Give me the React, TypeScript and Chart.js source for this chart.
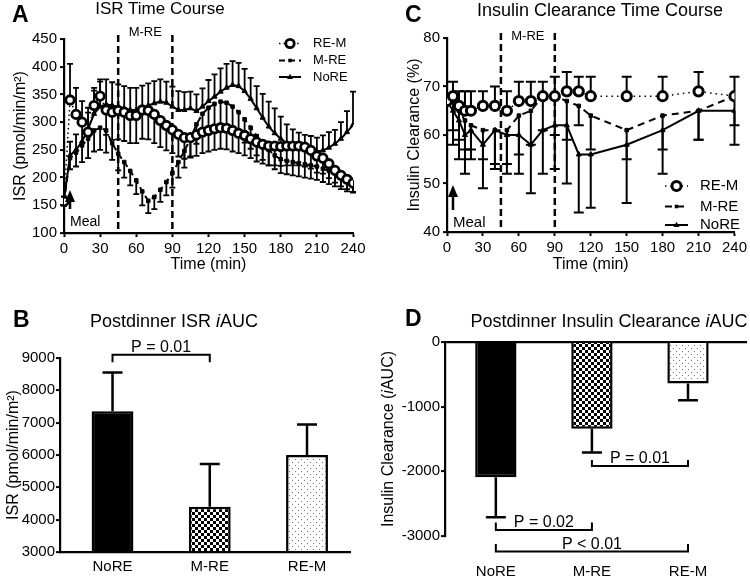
import React, { useEffect, useRef } from 'react';
import { Chart, registerables } from 'chart.js';

Chart.register(...registerables);

const FONT = '"Liberation Sans", Arial, Helvetica, sans-serif';

/* ---------------- Panel A: ISR time course ---------------- */
const isrTimes = [0, 5, 10, 15, 20, 25, 30, 35, 40, 45, 50, 55, 60, 65, 70, 75, 80, 85, 90, 95, 100, 105, 110, 115, 120, 125, 130, 135, 140, 145, 150, 155, 160, 165, 170, 175, 180, 185, 190, 195, 200, 205, 210, 215, 220, 225, 230, 235, 240];
const isrTimeTicks = [0, 30, 60, 90, 120, 150, 180, 210, 240];
const isrTicks = [100, 150, 200, 250, 300, 350, 400, 450];
const isrREM = [157, 340, 314, 300, 282, 330, 347, 322, 318, 321, 318, 312, 312, 322, 321, 314, 303, 294, 286, 278, 272, 272, 277, 282, 285, 288, 290, 289, 285, 280, 276, 270, 264, 260, 257, 257, 256, 257, 257, 257, 255, 249, 239, 235, 225, 213, 204, 197, 190];
const isrREMErr = [8, 65, 48, 38, 35, 32, 30, -45, -50, -52, -52, -50, -50, -52, -52, -52, -48, -45, -42, -40, -38, -36, -38, -38, -38, -38, -38, -38, -38, -36, -36, -35, -35, -35, -35, -35, -35, -35, -35, -35, -35, -33, -30, -28, -26, -22, -20, -18, -17];
const isrMRE = [157, 235, 245, 258, 270, 285, 290, 285, 262, 243, 228, 212, 195, 175, 158, 165, 178, 192, 208, 228, 248, 270, 296, 315, 326, 333, 337, 335, 328, 318, 305, 290, 275, 262, 250, 240, 233, 230, 228, 226, 224, 222, 220, 216, 212, 208, 203, 199, 196];
const isrMREErr = [-8, -20, -25, -30, -35, -38, -40, -40, -30, -30, -28, -26, -25, -25, -22, -22, -22, -24, -26, -28, -30, -32, -35, -40, -45, -48, -50, -50, -48, -45, -42, -38, -35, -30, -28, -25, -25, -24, -24, -24, -24, -24, -24, -24, -24, -24, -24, -24, -22];
const isrNoRE = [160, 240, 250, 265, 288, 315, 328, 332, 330, 328, 325, 322, 322, 326, 330, 334, 337, 335, 328, 322, 322, 325, 320, 328, 338, 346, 355, 362, 367, 365, 356, 342, 325, 308, 292, 280, 270, 262, 257, 253, 250, 248, 247, 249, 254, 261, 270, 282, 295];
const isrNoREErr = [6, 25, 28, 32, 38, 42, 45, 45, 42, 40, 40, 40, 40, 40, 40, 40, 40, 38, 36, 34, 32, 30, 30, 33, 38, 40, 42, 43, 43, 42, 40, 38, 40, 43, 45, 45, 40, 34, 30, 28, 27, 27, 25, 27, 28, 25, 30, 38, 60];

/* ---------------- Panel C: insulin clearance time course ---------------- */
const clrTimes = [0, 5, 10, 15, 20, 30, 40, 50, 60, 70, 80, 90, 100, 110, 120, 150, 180, 210, 240];
const clrTimeTicks = [0, 30, 60, 90, 120, 150, 180, 210, 240];
const clrTicks = [40, 50, 60, 70, 80];
const clrREM = [67, 68, 66, 65, 65, 66, 66, 65, 67, 67, 68, 68, 69, 69, 68, 68, 68, 69, 68];
const clrREMErr = [0, 3, 3, 4, 4, 3, 4, 4, 4, 4, 3, 4, 4, 3, 4, 4, 4, 4, 4];
const clrMRE = [67, 67, 65, 63, 62, 61, 61, 61, 64, 65, 68, 68, 67, 66, 64, 61, 64, 65, 68];
const clrMREErr = [0, -6, -6, -6, -5, -6, -7, -7, -8, -7, -7, -8, -8, -4, -7, -6, -7, -6, -6];
const clrNoRE = [67, 65, 63, 60, 61, 58, 61, 60, 60, 58, 61, 62, 62, 56, 56, 58, 61, 65, 65];
const clrNoREErr = [0, -7, -8, -8, -6, -9, -8, -8, -8, -10, -9, -9, -12, -12, -11, -12, -9, -6, -7];

/* ---------------- Shared annotations ---------------- */
const exerciseWindow = [45, 90];
const mealTime = 5;

/* ---------------- Panel B: ISR iAUC ---------------- */
const groups = ['NoRE', 'M-RE', 'RE-M'];
const isrAuc = [7350, 4400, 6000];
const isrAucErr = [1200, 1320, 940];
const isrAucTicks = [3000, 4000, 5000, 6000, 7000, 8000, 9000];
const isrAucBrackets = [{ from: 0, to: 1, level: 9100, tip: 8870, label: 'P = 0.01' }];

/* ---------------- Panel D: insulin clearance iAUC ---------------- */
const clrAuc = [-2090, -1340, -640];
const clrAucErr = [-620, -370, -260];
const clrAucTicks = [-3000, -2000, -1000, 0];
const clrAucBrackets = [
  { from: 1, to: 2, level: -1918, tip: -1825, label: 'P = 0.01' },
  { from: 0, to: 1, level: -2906, tip: -2793, label: 'P = 0.02' },
  { from: 0, to: 2, level: -3241, tip: -3122, label: 'P < 0.01' },
];

/* ---------------- helpers ---------------- */
const f = (size: number, style = '') => `${style}${size}px ${FONT}`;

function errorBars(lineWidth: number, capHalf: number) {
  return {
    id: 'errorBars',
    beforeDatasetsDraw(chart: any) {
      const ctx = chart.ctx;
      const ys = chart.scales.y;
      chart.data.datasets.forEach((ds: any, di: number) => {
        if (!ds.errors) return;
        const meta = chart.getDatasetMeta(di);
        ctx.save();
        ctx.strokeStyle = '#000';
        ctx.lineWidth = lineWidth;
        ctx.setLineDash([]);
        meta.data.forEach((el: any, i: number) => {
          const e = ds.errors[i];
          if (!e) return;
          const raw = ds.data[i];
          const v = typeof raw === 'number' ? raw : raw.y;
          const x = el.x;
          const y0 = ys.getPixelForValue(v);
          const y1 = ys.getPixelForValue(v + e);
          ctx.beginPath();
          ctx.moveTo(x, y0);
          ctx.lineTo(x, y1);
          ctx.moveTo(x - capHalf, y1);
          ctx.lineTo(x + capHalf, y1);
          ctx.stroke();
        });
        ctx.restore();
      });
    },
  };
}

function drawMarker(ctx: CanvasRenderingContext2D, style: string, x: number, y: number, r: number, fill: string, bw: number) {
  ctx.save();
  ctx.setLineDash([]);
  ctx.fillStyle = fill;
  ctx.strokeStyle = '#000';
  ctx.lineWidth = bw;
  ctx.beginPath();
  if (style === 'circle') {
    ctx.arc(x, y, r, 0, Math.PI * 2);
  } else if (style === 'rect') {
    const s = r * Math.SQRT2;
    ctx.rect(x - s / 2, y - s / 2, s, s);
  } else {
    ctx.moveTo(x, y - r * 1.1);
    ctx.lineTo(x - r, y + r * 0.7);
    ctx.lineTo(x + r, y + r * 0.7);
    ctx.closePath();
  }
  ctx.fill();
  if (style === 'circle') ctx.stroke();
  ctx.restore();
}

function timeDecor(cfg: any) {
  return {
    id: 'timeDecor',
    beforeDatasetsDraw(chart: any) {
      const { ctx, chartArea } = chart;
      const xs = chart.scales.x;
      ctx.save();
      ctx.strokeStyle = '#000';
      ctx.lineWidth = 2.5;
      ctx.setLineDash([7, 4]);
      exerciseWindow.forEach((t) => {
        const px = xs.getPixelForValue(t);
        ctx.beginPath();
        ctx.moveTo(px, chartArea.top - cfg.overhang);
        ctx.lineTo(px, chartArea.bottom);
        ctx.stroke();
      });
      ctx.restore();
    },
    afterDatasetsDraw(chart: any) {
      const { ctx, chartArea } = chart;
      const xs = chart.scales.x;
      ctx.save();
      ctx.fillStyle = '#000';
      ctx.strokeStyle = '#000';
      const p1 = xs.getPixelForValue(exerciseWindow[0]);
      const p2 = xs.getPixelForValue(exerciseWindow[1]);
      ctx.font = f(cfg.windowFont);
      ctx.textAlign = 'center';
      ctx.textBaseline = 'middle';
      ctx.fillText('M-RE', (p1 + p2) / 2, chartArea.top + cfg.windowLabelDy);
      const ax = xs.getPixelForValue(mealTime);
      const b = chartArea.bottom;
      ctx.beginPath();
      ctx.moveTo(ax, b - cfg.arrowTip);
      ctx.lineTo(ax - cfg.arrowHalf, b - cfg.arrowBase);
      ctx.lineTo(ax + cfg.arrowHalf, b - cfg.arrowBase);
      ctx.closePath();
      ctx.fill();
      ctx.lineWidth = 2.5;
      ctx.beginPath();
      ctx.moveTo(ax, b - cfg.arrowBase);
      ctx.lineTo(ax, b - cfg.stemEnd);
      ctx.stroke();
      ctx.font = f(cfg.mealFont);
      ctx.textAlign = 'left';
      ctx.fillText('Meal', ax + cfg.mealDx, b - cfg.mealDy);
      chart.data.datasets.forEach((ds: any, i: number) => {
        const y = cfg.legendY[i];
        ctx.save();
        ctx.lineWidth = ds.borderWidth;
        ctx.setLineDash(ds.borderDash || []);
        ctx.beginPath();
        ctx.moveTo(cfg.legendX0, y);
        ctx.lineTo(cfg.legendX1, y);
        ctx.stroke();
        ctx.restore();
        drawMarker(ctx, ds.pointStyle, (cfg.legendX0 + cfg.legendX1) / 2, y, ds.pointRadius, ds.pointBackgroundColor, ds.pointBorderWidth || 1);
        ctx.font = f(cfg.legendFont);
        ctx.textAlign = 'left';
        ctx.textBaseline = 'middle';
        ctx.fillStyle = '#000';
        ctx.fillText(ds.label, cfg.legendTextX, y);
      });
      ctx.restore();
    },
  };
}

function bracketPlugin(items: any[], font: number) {
  return {
    id: 'brackets',
    afterDraw(chart: any) {
      const { ctx } = chart;
      const xs = chart.scales.x;
      const ys = chart.scales.y;
      ctx.save();
      ctx.strokeStyle = '#000';
      ctx.fillStyle = '#000';
      ctx.lineWidth = 2;
      ctx.font = f(font);
      ctx.textAlign = 'center';
      ctx.textBaseline = 'alphabetic';
      items.forEach((b) => {
        const x1 = xs.getPixelForValue(b.from);
        const x2 = xs.getPixelForValue(b.to);
        const yl = ys.getPixelForValue(b.level);
        const yt = ys.getPixelForValue(b.tip);
        ctx.beginPath();
        ctx.moveTo(x1, yt);
        ctx.lineTo(x1, yl);
        ctx.lineTo(x2, yl);
        ctx.lineTo(x2, yt);
        ctx.stroke();
        ctx.fillText(b.label, (x1 + x2) / 2, yl - 3);
      });
      ctx.restore();
    },
  };
}

function richYTitle(parts: { text: string; italic?: boolean }[], x: number, size: number) {
  return {
    id: 'richYTitle',
    afterDraw(chart: any) {
      const { ctx, chartArea } = chart;
      const cy = (chartArea.top + chartArea.bottom) / 2;
      ctx.save();
      ctx.translate(x, cy);
      ctx.rotate(-Math.PI / 2);
      ctx.fillStyle = '#000';
      ctx.textBaseline = 'middle';
      ctx.textAlign = 'left';
      let total = 0;
      parts.forEach((p) => {
        ctx.font = f(size, p.italic ? 'italic ' : '');
        total += ctx.measureText(p.text).width;
      });
      let cx = -total / 2;
      parts.forEach((p) => {
        ctx.font = f(size, p.italic ? 'italic ' : '');
        ctx.fillText(p.text, cx, 0);
        cx += ctx.measureText(p.text).width;
      });
      ctx.restore();
    },
  };
}

function checkerPattern(ctx: CanvasRenderingContext2D) {
  const c = document.createElement('canvas');
  c.width = 6;
  c.height = 6;
  const g = c.getContext('2d')!;
  g.fillStyle = '#fff';
  g.fillRect(0, 0, 6, 6);
  g.fillStyle = '#000';
  g.fillRect(0, 0, 3, 3);
  g.fillRect(3, 3, 3, 3);
  return ctx.createPattern(c, 'repeat');
}

function dotPattern(ctx: CanvasRenderingContext2D) {
  const c = document.createElement('canvas');
  c.width = 6;
  c.height = 6;
  const g = c.getContext('2d')!;
  g.fillStyle = '#fff';
  g.fillRect(0, 0, 6, 6);
  g.fillStyle = '#777';
  g.fillRect(1, 1, 1, 1);
  g.fillRect(4, 4, 1, 1);
  return ctx.createPattern(c, 'repeat');
}

const tickFont = (size: number) => ({ family: FONT, size });

function axisY(opts: any) {
  return {
    type: 'linear',
    min: opts.ticks[0],
    max: opts.ticks[opts.ticks.length - 1],
    afterBuildTicks: (s: any) => {
      s.ticks = opts.ticks.map((v: number) => ({ value: v }));
    },
    afterFit: (s: any) => {
      s.width = opts.width;
    },
    border: { display: true, color: '#000', width: 2.2 },
    grid: {
      display: true,
      drawOnChartArea: !!opts.zeroLine,
      color: (c: any) => (opts.zeroLine && c.tick && c.tick.value === 0 ? '#000' : 'rgba(0,0,0,0)'),
      lineWidth: 2.2,
      drawTicks: true,
      tickLength: 4,
      tickColor: '#000',
      tickWidth: 2,
    },
    ticks: {
      color: '#000',
      font: tickFont(opts.tickSize),
      padding: opts.tickPad,
      callback: (v: any) => String(v),
    },
    title: opts.title
      ? { display: true, text: opts.title, color: '#000', font: { family: FONT, size: 16 }, padding: { top: opts.titlePad, bottom: 0 } }
      : { display: false },
  };
}

function timeCourseConfig(p: any) {
  const datasets = p.series.map((s: any) => ({
    label: s.label,
    data: p.times.map((t: number, i: number) => ({ x: t, y: s.values[i] })),
    errors: s.errors,
    borderColor: '#000',
    backgroundColor: '#000',
    pointBorderColor: '#000',
    tension: 0,
    ...s.style,
  }));
  return {
    type: 'line',
    data: { datasets },
    options: {
      responsive: false,
      maintainAspectRatio: false,
      animation: false,
      events: [],
      layout: { padding: p.padding },
      plugins: { legend: { display: false }, tooltip: { enabled: false }, title: { display: false } },
      scales: {
        x: {
          type: 'linear',
          min: 0,
          max: 240,
          afterBuildTicks: (s: any) => {
            s.ticks = p.xTicks.map((v: number) => ({ value: v }));
          },
          afterFit: (s: any) => {
            s.height = p.xHeight;
          },
          border: { display: true, color: '#000', width: 2.2 },
          grid: { display: true, drawOnChartArea: false, drawTicks: true, tickLength: 4, tickColor: '#000', tickWidth: 2 },
          ticks: { color: '#000', font: tickFont(15), padding: 3, maxRotation: 0, autoSkip: false },
          title: { display: true, text: 'Time (min)', color: '#000', font: { family: FONT, size: 16 }, padding: { top: 0, bottom: 16 } },
        },
        y: axisY({ ticks: p.yTicks, width: p.yWidth, tickSize: 15, tickPad: 3, title: p.yTitle, titlePad: p.yTitlePad }),
      },
    },
    plugins: [errorBars(p.errWidth, p.capHalf), timeDecor(p.decor)],
  };
}

function makeA() {
  return timeCourseConfig({
    times: isrTimes,
    xTicks: isrTimeTicks,
    yTicks: isrTicks,
    padding: { top: 39, right: 22, bottom: 0, left: 0 },
    xHeight: 57,
    yWidth: 64,
    yTitle: 'ISR (pmol/min/m²)',
    yTitlePad: 11,
    errWidth: 1.8,
    capHalf: 3,
    series: [
      { label: 'RE-M', values: isrREM, errors: isrREMErr, style: { borderWidth: 1.5, borderDash: [1.5, 3], pointStyle: 'circle', pointRadius: 4.2, pointBorderWidth: 2.8, pointBackgroundColor: '#fff' } },
      { label: 'M-RE', values: isrMRE, errors: isrMREErr, style: { borderWidth: 2, borderDash: [6, 4], pointStyle: 'rect', pointRadius: 2.5, pointBorderWidth: 1, pointBackgroundColor: '#000' } },
      { label: 'NoRE', values: isrNoRE, errors: isrNoREErr, style: { borderWidth: 2, borderDash: [], pointStyle: 'triangle', pointRadius: 3, pointBorderWidth: 1, pointBackgroundColor: '#000' } },
    ],
    decor: {
      overhang: 4,
      windowFont: 13,
      windowLabelDy: -7,
      arrowTip: 43,
      arrowBase: 31,
      arrowHalf: 5,
      stemEnd: 24,
      mealFont: 14,
      mealDx: 0,
      mealDy: 11,
      legendX0: 279,
      legendX1: 301,
      legendTextX: 313,
      legendY: [43.5, 60.5, 77],
      legendFont: 13,
    },
  });
}

function makeC() {
  return timeCourseConfig({
    times: clrTimes,
    xTicks: clrTimeTicks,
    yTicks: clrTicks,
    padding: { top: 38, right: 13, bottom: 0, left: 0 },
    xHeight: 58,
    yWidth: 72,
    yTitle: 'Insulin Clearance (%)',
    yTitlePad: 30,
    errWidth: 2,
    capHalf: 5,
    series: [
      { label: 'RE-M', values: clrREM, errors: clrREMErr, style: { borderWidth: 1.5, borderDash: [1.5, 4], pointStyle: 'circle', pointRadius: 4.6, pointBorderWidth: 3, pointBackgroundColor: '#fff' } },
      { label: 'M-RE', values: clrMRE, errors: clrMREErr, style: { borderWidth: 2, borderDash: [7, 5], pointStyle: 'rect', pointRadius: 2.5, pointBorderWidth: 1, pointBackgroundColor: '#000' } },
      { label: 'NoRE', values: clrNoRE, errors: clrNoREErr, style: { borderWidth: 2, borderDash: [], pointStyle: 'triangle', pointRadius: 3, pointBorderWidth: 1, pointBackgroundColor: '#000' } },
    ],
    decor: {
      overhang: 5,
      windowFont: 13,
      windowLabelDy: -2,
      arrowTip: 47,
      arrowBase: 35,
      arrowHalf: 5,
      stemEnd: 22,
      mealFont: 15,
      mealDx: 0,
      mealDy: 9,
      legendX0: 290,
      legendX1: 313,
      legendTextX: 325,
      legendY: [186, 206.5, 225],
      legendFont: 15,
    },
  });
}

function barConfig(p: any) {
  return (canvasCtx: CanvasRenderingContext2D) => ({
    type: 'bar',
    data: {
      datasets: [
        {
          data: p.values.map((v: number, i: number) => ({ x: i, y: v })),
          errors: p.errors,
          backgroundColor: ['#000', checkerPattern(canvasCtx), dotPattern(canvasCtx)],
          borderColor: '#000',
          borderWidth: 2.5,
          borderSkipped: 'start',
          base: p.base,
          categoryPercentage: 1,
          barPercentage: 0.43,
        },
      ],
    },
    options: {
      responsive: false,
      maintainAspectRatio: false,
      animation: false,
      events: [],
      layout: { padding: p.padding },
      plugins: { legend: { display: false }, tooltip: { enabled: false }, title: { display: false } },
      scales: {
        x: {
          type: 'linear',
          min: p.xMin,
          max: p.xMax,
          offset: false,
          afterBuildTicks: (s: any) => {
            s.ticks = groups.map((_g, i) => ({ value: i }));
          },
          afterFit: (s: any) => {
            s.height = p.xHeight;
          },
          border: { display: p.xBorder, color: '#000', width: 2.2 },
          grid: { display: false, drawTicks: false },
          ticks: { color: '#000', font: tickFont(15), padding: p.xTickPad, maxRotation: 0, autoSkip: false, callback: (v: any) => groups[v] ?? '' },
        },
        y: axisY({ ticks: p.yTicks, width: p.yWidth, tickSize: 15, tickPad: 1, title: p.yTitle, titlePad: p.yTitlePad, zeroLine: p.zeroLine }),
      },
    },
    plugins: [errorBars(2.5, 10), bracketPlugin(p.brackets, 16), ...(p.extra || [])],
  });
}

const makeB = barConfig({
  values: isrAuc,
  errors: isrAucErr,
  base: isrAucTicks[0],
  padding: { top: 68, right: 25, bottom: 0, left: 0 },
  xMin: -0.54,
  xMax: 2.442,
  xHeight: 27,
  xBorder: true,
  xTickPad: 6,
  yTicks: isrAucTicks,
  yWidth: 60,
  yTitle: 'ISR (pmol/min/m²)',
  yTitlePad: 4,
  brackets: isrAucBrackets,
});

const makeD = barConfig({
  values: clrAuc,
  errors: clrAucErr,
  base: 0,
  padding: { top: 52, right: 3, bottom: 0, left: 0 },
  xMin: -0.529,
  xMax: 2.614,
  xHeight: 43,
  xBorder: false,
  xTickPad: 27,
  yTicks: clrAucTicks,
  yWidth: 70,
  yTitle: null,
  yTitlePad: 0,
  zeroLine: true,
  brackets: clrAucBrackets,
  extra: [richYTitle([{ text: 'Insulin Clearance (' }, { text: 'i', italic: true }, { text: 'AUC)' }], 14, 16)],
});

function ChartPanel({ make, left, top, width, height }: { make: (ctx: CanvasRenderingContext2D) => any; left: number; top: number; width: number; height: number }) {
  const ref = useRef<HTMLCanvasElement>(null);
  useEffect(() => {
    const canvas = ref.current!;
    const ctx = canvas.getContext('2d')!;
    const chart = new Chart(canvas, make(ctx));
    return () => chart.destroy();
  }, [make]);
  return <canvas ref={ref} width={width} height={height} style={{ position: 'absolute', left, top, width, height }} />;
}

function Label({ x, y, size, bold, center, children }: { x: number; y: number; size: number; bold?: boolean; center?: boolean; children: React.ReactNode }) {
  return (
    <div
      style={{
        position: 'absolute',
        left: x,
        top: y - size * 0.6,
        fontSize: size,
        lineHeight: `${size * 1.2}px`,
        fontWeight: bold ? 700 : 400,
        transform: center ? 'translateX(-50%)' : undefined,
        whiteSpace: 'nowrap',
        color: '#000',
        fontFamily: FONT,
      }}
    >
      {children}
    </div>
  );
}

export default function App() {
  return (
    <div style={{ position: 'absolute', left: 0, top: 0, width: 750, height: 579, background: '#fff', overflow: 'hidden', fontFamily: FONT }}>
      <ChartPanel make={makeA} left={0} top={0} width={375} height={290} />
      <ChartPanel make={makeC} left={375} top={0} width={375} height={290} />
      <ChartPanel make={makeB} left={0} top={290} width={375} height={289} />
      <ChartPanel make={makeD} left={375} top={290} width={375} height={289} />
      <Label x={12} y={15} size={23} bold>A</Label>
      <Label x={160} y={9.5} size={17} center>ISR Time Course</Label>
      <Label x={405} y={15} size={23} bold>C</Label>
      <Label x={600} y={11} size={18} center>Insulin Clearance Time Course</Label>
      <Label x={13} y={320} size={23} bold>B</Label>
      <Label x={174} y={321.7} size={18} center>
        Postdinner ISR <i>i</i>AUC
      </Label>
      <Label x={405} y={318.5} size={23} bold>D</Label>
      <Label x={609} y={321.5} size={18} center>
        Postdinner Insulin Clearance <i>i</i>AUC
      </Label>
    </div>
  );
}
